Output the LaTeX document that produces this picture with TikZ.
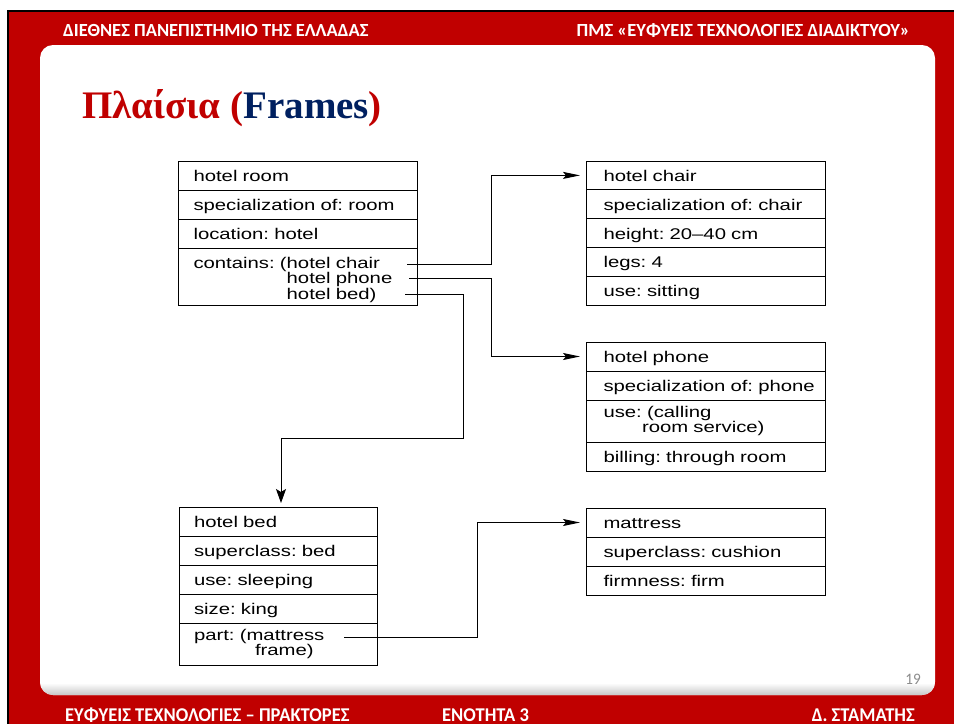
\documentclass[tikz,border=0pt]{standalone}
\usepackage{fontspec}
\usepackage{tikz}
\usetikzlibrary{positioning,arrows.meta}

\newfontfamily\framefont[FakeStretch=1.31]{Liberation Sans}
\newfontfamily\headfont{Carlito}
\newfontfamily\footfont[FakeStretch=0.95]{Carlito}
\newfontfamily\titlefont{Liberation Serif}
\frenchspacing

\begin{document}
\begin{tikzpicture}[x=1pt,y=-1pt,
  slot/.style={draw, line width=1pt, outer sep=0pt, inner ysep=0pt,
    minimum height=29pt, align=left, text height=13pt, text depth=1pt,
    font=\framefont\fontsize{15.5}{14}\selectfont},
  lslot/.style={slot, inner xsep=15.5pt, text width=208pt},
  bslot/.style={slot, inner xsep=15pt, text width=168pt},
  rslot/.style={slot, inner xsep=17.5pt, text width=204pt},
  twolines/.style={minimum height=42pt, text height=10pt, text depth=17.4pt},
  link/.style={-{Stealth[length=17pt,width=7pt,inset=3pt]}, line width=1pt, shorten >=6pt},
  drop/.style={-{Stealth[length=14pt,width=10pt,inset=3pt]}, line width=1pt, shorten >=4pt},
  head/.style={font=\headfont\bfseries\fontsize{18.5}{20}\selectfont, text=white, inner sep=0pt},
  foot/.style={font=\footfont\bfseries\fontsize{19.5}{22}\selectfont, text=white, inner sep=0pt}]

% Colori
\definecolor{redUni}{HTML}{C00000}
\definecolor{blueUni}{HTML}{002060}
\definecolor{numGray}{HTML}{8C8C8C}

\useasboundingbox (0,0) rectangle (954,724);

% Sfondo della diapositiva
\fill[white] (0,0) rectangle (954,724);
\fill[redUni] (8,11) rectangle (954,724);
\draw[black, line width=1.6pt] (954,11) -- (8,11) -- (8,724);
\fill[white, rounded corners=13pt] (40,45) rectangle (935,695);
\begin{scope}
  \clip[rounded corners=13pt] (40,45) rectangle (935,695);
  \shade[top color=white, bottom color=black!22] (40,683) rectangle (935,695);
\end{scope}

% Intestazione e pie' di pagina
\node[head, anchor=base west] (uni) at (63,36) {ΔΙΕΘΝΕΣ ΠΑΝΕΠΙΣΤΗΜΙΟ ΤΗΣ ΕΛΛΑΔΑΣ};
\node[head, anchor=base east] (pms) at (910,36) {ΠΜΣ «ΕΥΦΥΕΙΣ ΤΕΧΝΟΛΟΓΙΕΣ ΔΙΑΔΙΚΤΥΟΥ»};
\node[foot, anchor=base west] (course) at (65,721) {ΕΥΦΥΕΙΣ ΤΕΧΝΟΛΟΓΙΕΣ – ΠΡΑΚΤΟΡΕΣ};
\node[foot, anchor=base west] (unit) at (442,721) {ΕΝΟΤΗΤΑ 3};
\node[foot, anchor=base east] (author) at (915,721) {Δ. ΣΤΑΜΑΤΗΣ};
\node[anchor=base east, inner sep=0pt, text=numGray, font=\footfont\fontsize{16}{18}\selectfont] (pagenum) at (921,684) {19};

% Titolo
\node[anchor=base west, inner sep=0pt, text=redUni,
  font=\titlefont\bfseries\fontsize{39}{42}\selectfont] (title) at (82,118)
  {Πλαίσια (\textcolor{blueUni}{Frames})};

% Frame: hotel room
\node[lslot, anchor=north west] (room1) at (178,161) {hotel room};
\node[lslot, below=0pt of room1] (room2) {specialization of: room};
\node[lslot, below=0pt of room2] (room3) {location: hotel};
\node[lslot, below=0pt of room3, minimum height=57pt, text height=12pt, text depth=28.4pt] (room4)
  {contains: (hotel chair\\\phantom{contains: (}hotel phone\\\phantom{contains: (}hotel bed)};

% Frame: hotel chair
\node[rslot, anchor=north west, minimum height=28.8pt] (chair1) at (586,161) {hotel chair};
\node[rslot, below=0pt of chair1, minimum height=28.8pt] (chair2) {specialization of: chair};
\node[rslot, below=0pt of chair2, minimum height=28.8pt] (chair3) {height: 20–40 cm};
\node[rslot, below=0pt of chair3, minimum height=28.8pt] (chair4) {legs: 4};
\node[rslot, below=0pt of chair4, minimum height=28.8pt] (chair5) {use: sitting};

% Frame: hotel phone
\node[rslot, anchor=north west] (phone1) at (586,342) {hotel phone};
\node[rslot, below=0pt of phone1] (phone2) {specialization~of:~phone};
\node[rslot, below=0pt of phone2, twolines] (phone3) {use: (calling\\\hspace*{38.5pt}room service)};
\node[rslot, below=0pt of phone3] (phone4) {billing: through room};

% Frame: hotel bed
\node[bslot, anchor=north west] (bed1) at (179,507) {hotel bed};
\node[bslot, below=0pt of bed1] (bed2) {superclass: bed};
\node[bslot, below=0pt of bed2] (bed3) {use: sleeping};
\node[bslot, below=0pt of bed3] (bed4) {size: king};
\node[bslot, below=0pt of bed4, twolines] (bed5) {part: (mattress\\\hspace*{61pt}frame)};

% Frame: mattress
\node[rslot, anchor=north west] (mat1) at (586,508) {mattress};
\node[rslot, below=0pt of mat1] (mat2) {superclass: cushion};
\node[rslot, below=0pt of mat2] (mat3) {firmness: firm};

% Collegamenti
\coordinate (cchair) at (407,264);
\coordinate (cphone) at (409,278);
\coordinate (cbed) at (405,294);
\coordinate (cpart) at (344,637);

\draw[link] (cchair) -- ++(84,0) |- (chair1.west);
\draw[link] (cphone) -- ++(82,0) |- (phone1.west);
\draw[drop] (cbed) -- ++(58,0) -- ++(0,144) -| ([xshift=3pt]bed1.north);
\draw[link] (cpart) -- ++(133,0) |- (mat1.west);

\end{tikzpicture}
\end{document}
